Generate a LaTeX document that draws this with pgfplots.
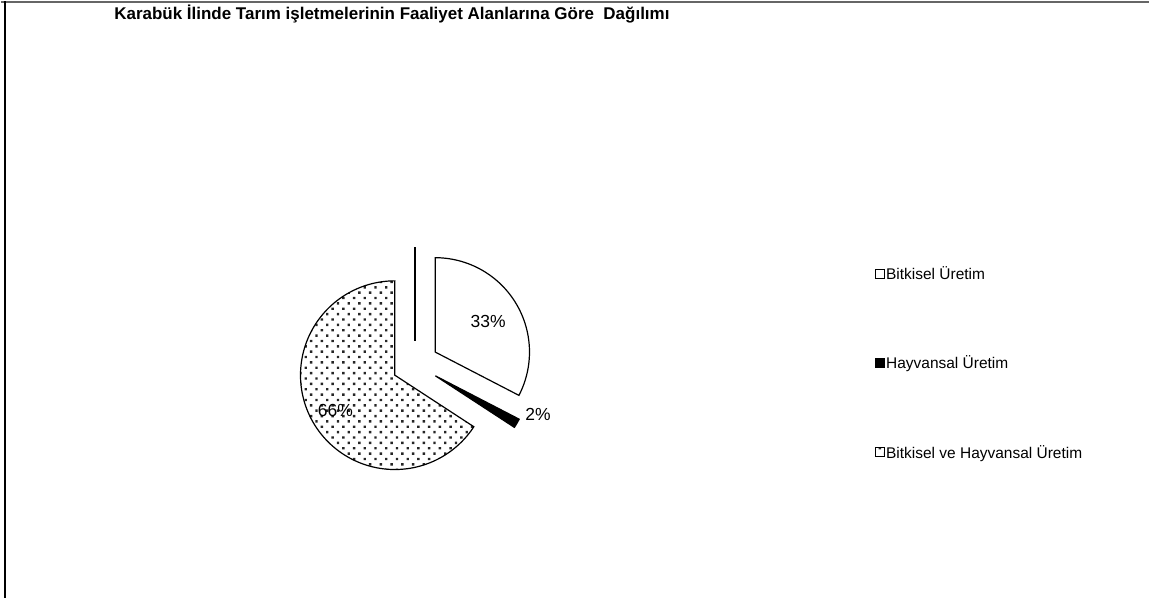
\documentclass[border=0pt]{standalone}
\usepackage{pgfplots}
\pgfplotsset{compat=1.18}
\usepackage{fontspec}
\setmainfont{Liberation Sans}
\usetikzlibrary{patterns.meta}

% shares (%), clockwise from 12 o'clock
\def\vA{32.6}% Bitkisel Üretim
\def\vB{1.6}%  Hayvansal Üretim
\def\vC{65.8}% Bitkisel ve Hayvansal Üretim
% pie geometry in px
\def\cx{415}\def\cy{234}\def\R{94.5}\def\D{23.3}

\pgfmathsetmacro\aA{90}
\pgfmathsetmacro\aB{\aA-3.6*\vA}
\pgfmathsetmacro\aC{\aB-3.6*\vB}
\pgfmathsetmacro\aD{\aC-3.6*\vC}
\pgfmathsetmacro\xA{\cx+\D*cos((\aA+\aB)/2)}\pgfmathsetmacro\yA{\cy+\D*sin((\aA+\aB)/2)}
\pgfmathsetmacro\xB{\cx+\D*cos((\aB+\aC)/2)}\pgfmathsetmacro\yB{\cy+\D*sin((\aB+\aC)/2)}
\pgfmathsetmacro\xC{\cx+\D*cos((\aC+\aD)/2)}\pgfmathsetmacro\yC{\cy+\D*sin((\aC+\aD)/2)}

\newcommand\lfont{\fontsize{15.5}{18}\selectfont}
\newcommand\pfont{\fontsize{17.5}{20}\selectfont}

\begin{document}
\begin{tikzpicture}
\begin{axis}[
  width=1150pt, height=598pt, scale only axis,
  xmin=0, xmax=1150, ymin=0, ymax=598,
  hide axis, clip=false,
  legend image code/.code={\draw[#1, line width=1pt] (0pt,-4.5pt) rectangle (9pt,4.5pt);},
  legend style={draw=none, fill=none, at={(axis cs:875,235)}, anchor=west,
    font=\lfont, row sep=72pt, inner sep=0pt,
    nodes={inner sep=1.5pt}},
  legend cell align=left]
\path (axis cs:0,0) rectangle (axis cs:1150,598);
\draw[black!60, line width=2pt] (axis cs:0,597) -- (axis cs:1150,597);
\draw[black, line width=1.5pt] (axis cs:4,0) -- (axis cs:4,598);

\addplot[draw=black, fill=white, line width=1.2pt, domain=\aB:\aA, samples=90]
  ({\xA+\R*cos(x)},{\yA+\R*sin(x)}) -- (\xA,\yA) -- cycle;
\addlegendentry{Bitkisel Üretim}
\addplot[draw=black, fill=black, line width=1.2pt, domain=\aC:\aB, samples=10]
  ({\xB+\R*cos(x)},{\yB+\R*sin(x)}) -- (\xB,\yB) -- cycle;
\addlegendentry{Hayvansal Üretim}
\addplot[draw=black, pattern={Dots[distance=7.6pt, angle=45, radius=1.7pt]},
  pattern color=black!85, line width=1.2pt, domain=\aD:\aC, samples=150]
  ({\xC+\R*cos(x)},{\yC+\R*sin(x)}) -- (\xC,\yC) -- cycle;
\addlegendentry{Bitkisel ve Hayvansal Üretim}
% zero-width slice at 12 o'clock, pulled out
\addplot[black, line width=2.4pt, forget plot] coordinates {(415,257.3) (415,351.8)};

\node[font=\pfont] at (axis cs:488,277) {33\%};
\node[font=\pfont] at (axis cs:538,184) {2\%};
\node[font=\pfont] at (axis cs:335,188) {66\%};
\node[font=\fontsize{17}{20}\selectfont\bfseries, anchor=west] at (axis cs:110,585) {Karabük İlinde Tarım işletmelerinin Faaliyet Alanlarına Göre\ \ Dağılımı};
\end{axis}
\end{tikzpicture}
\end{document}
